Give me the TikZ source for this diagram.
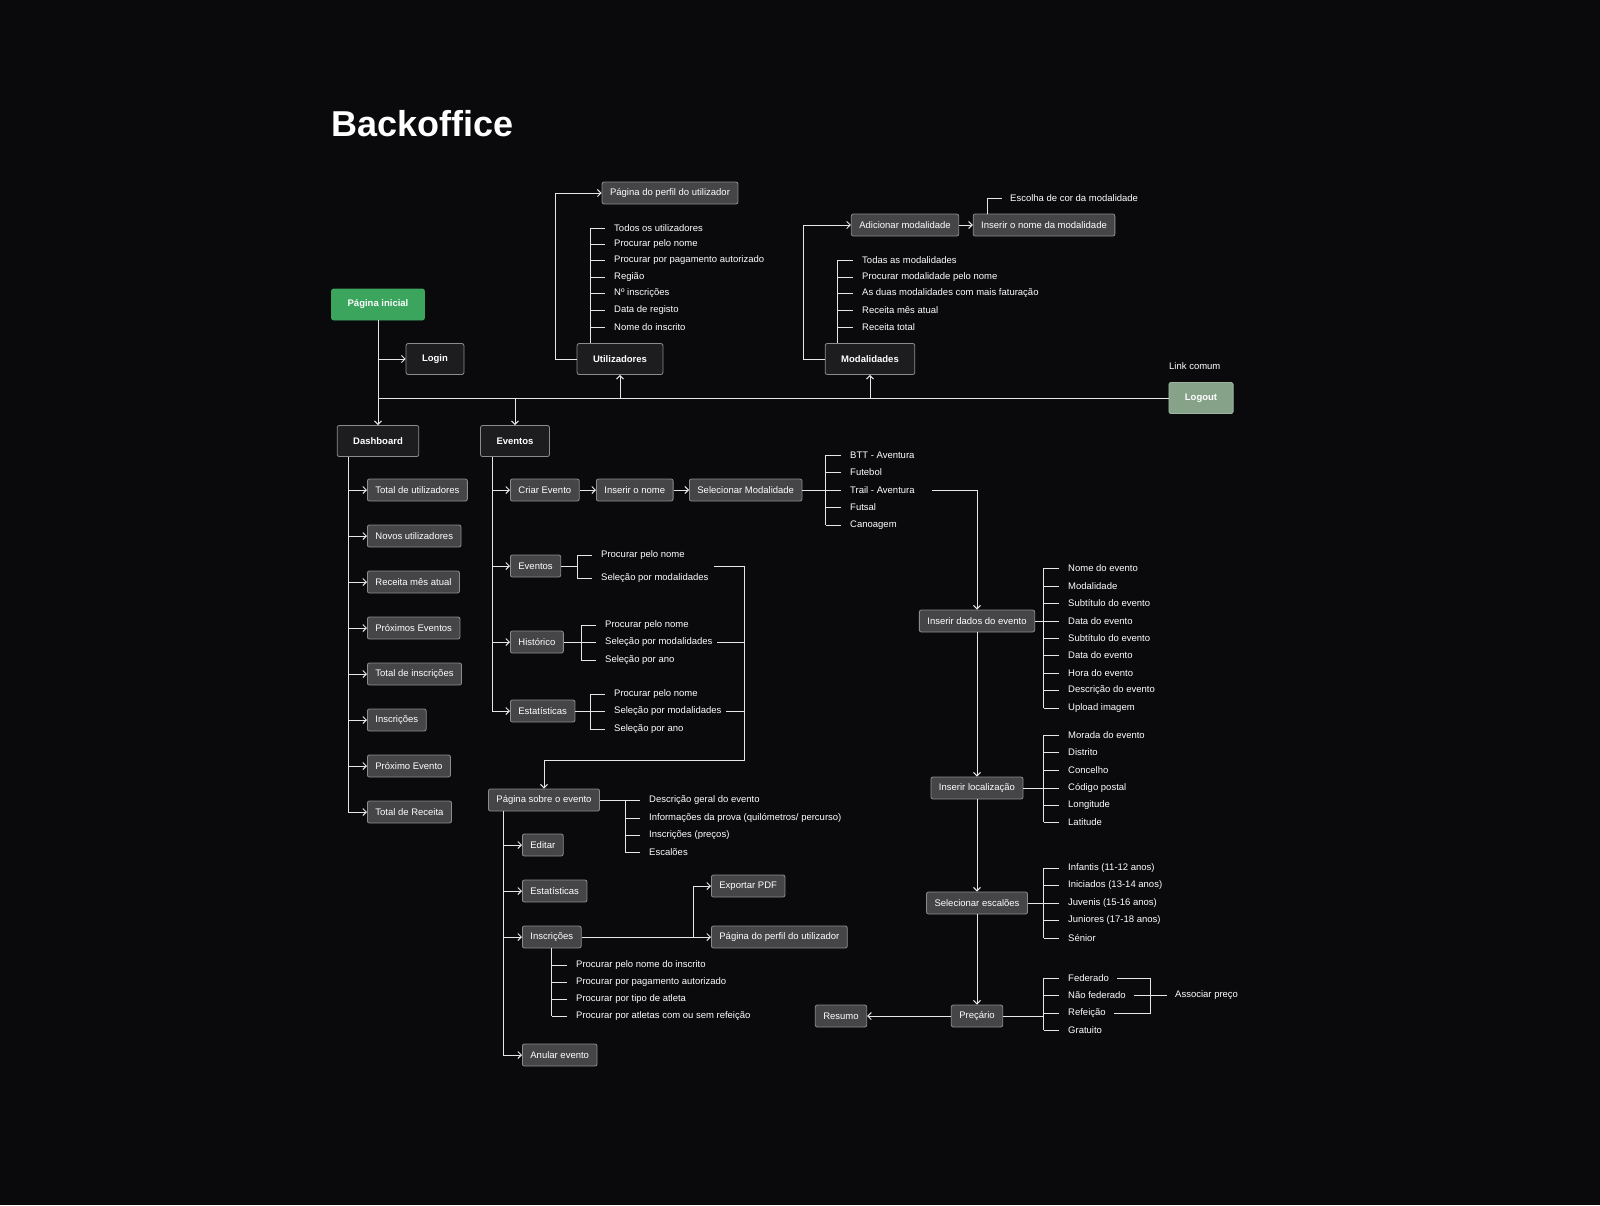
\documentclass[tikz,border=0pt]{standalone}
\usepackage{fontspec}
\setmainfont{Liberation Sans}
\usetikzlibrary{arrows.meta,calc}
\definecolor{bg}{HTML}{0A0A0C}
\definecolor{mainfill}{HTML}{1D1D1F}
\definecolor{subfill}{HTML}{454547}
\definecolor{bord}{HTML}{8C8C8C}
\definecolor{ln}{HTML}{E6E6E6}
\definecolor{grn}{HTML}{3BA55D}
\definecolor{sage}{HTML}{86A38A}
\tikzset{
 base/.style={draw=bord,line width=0.8pt,rounded corners=2pt,text=white,font=\fontsize{9.5}{11}\selectfont},
 mainn/.style={base,fill=mainfill,minimum height=31pt,inner xsep=16pt,font=\fontsize{9.5}{11}\selectfont\bfseries},
 subn/.style={base,fill=subfill,minimum height=22pt,inner xsep=8pt},
 txt/.style={anchor=west,inner sep=0pt,text=white,font=\fontsize{9.5}{11}\selectfont},
 wire/.style={draw=ln,line width=1pt},
 arr/.style={wire,-{Straight Barb[length=3.5pt,width=7pt]}},
}
\newcommand{\mylist}[3]{%
 \foreach \yy/\tt [count=\i] in {#3} {
   \node[txt] (#1\i) at (#2,\yy) {\tt};
   \draw[wire] ([xshift=-9pt]#1\i.west) -- ++(-15pt,0);
 }}
\begin{document}
\begin{tikzpicture}[x=1pt,y=-1pt]
\fill[bg] (0,0) rectangle (1600,1205);
\useasboundingbox (0,0) rectangle (1600,1205);
\node[anchor=west,inner sep=0pt,text=white,font=\fontsize{36}{40}\selectfont\bfseries] (title) at (331,124) {Backoffice};

% top level
\node[mainn,fill=grn,draw=grn] (home) at (378,304.5) {Página inicial};
\node[mainn] (login) at (435,359) {Login};
\node[mainn] (util) at (620,359) {Utilizadores};
\node[mainn] (moda) at (870,359) {Modalidades};
\node[mainn,fill=sage,draw=sage!80!white] (logout) at (1201,398) {Logout};
\node[txt] (link) at (1169,366) {Link comum};
\node[mainn] (dash) at (378,441) {Dashboard};
\node[mainn] (even) at (515,441) {Eventos};

\coordinate (hj) at (378,398);
\draw[arr] (home.south) -- (dash.north);
\draw[arr] (home.south|-login) -- (login.west);
\draw[wire] (hj) -- (logout.west);
\draw[arr] (even.north|-hj) -- (even.north);
\draw[arr] (util.south|-hj) -- (util.south);
\draw[arr] (moda.south|-hj) -- (moda.south);

% Utilizadores
\node[subn] (perfil1) at (670,193) {Página do perfil do utilizador};
\draw[arr] (util.west) -| (555,193) -- (perfil1.west);
\mylist{u}{614}{228/Todos os utilizadores,244/Procurar pelo nome,260/Procurar por pagamento autorizado,277/Região,293/Nº inscrições,310/Data de registo,327/Nome do inscrito}
\draw[wire] (590,228) -- (590,343);

% Modalidades
\node[subn] (addm) at (905,225) {Adicionar modalidade};
\node[subn] (nomem) at (1044,225) {Inserir o nome da modalidade};
\draw[arr] (moda.west) -| (803,225) -- (addm.west);
\draw[arr] (addm.east) -- (nomem.west);
\node[txt] (cor) at (1010,198) {Escolha de cor da modalidade};
\draw[wire] (987,214) -- (987,198) -- (1002,198);
\mylist{m}{862}{260/Todas as modalidades,277/Procurar modalidade pelo nome,293/As duas modalidades com mais faturação,310/Receita mês atual,327/Receita total}
\draw[wire] (837,260) -- (837,343);

% Dashboard
\draw[wire] (348,457) -- (348,812);
\foreach \yy/\tt [count=\i] in {490/Total de utilizadores,536/Novos utilizadores,582/Receita mês atual,628/Próximos Eventos,674/Total de inscrições,720/Inscrições,766/Próximo Evento,812/Total de Receita}{
  \node[subn,anchor=west] (d\i) at (367,\yy) {\tt};
  \draw[arr] (348,\yy) -- (d\i.west);
}

% Eventos
\draw[wire] (492,457) -- (492,711);
\node[subn,anchor=west] (criar) at (510,490) {Criar Evento};
\node[subn,anchor=west] (inome) at (596,490) {Inserir o nome};
\node[subn,anchor=west] (selm) at (689,490) {Selecionar Modalidade};
\node[subn,anchor=west] (evs) at (510,566) {Eventos};
\node[subn,anchor=west] (hist) at (510,642) {Histórico};
\node[subn,anchor=west] (estat) at (510,711) {Estatísticas};
\foreach \n in {criar,evs,hist,estat} \draw[arr] (492,0|-\n) -- (\n.west);
\draw[arr] (criar.east) -- (inome.west);
\draw[arr] (inome.east) -- (selm.west);
\mylist{s}{850}{455/BTT - Aventura,472/Futebol,490/Trail - Aventura,507/Futsal,525/Canoagem}
\draw[wire] (825,455) -- (825,525);
\draw[wire] (selm.east) -- (825,490);

\mylist{e}{601}{555/Procurar pelo nome,578/Seleção por modalidades}
\draw[wire] (577,555) -- (577,578); \draw[wire] (evs.east) -- (577,566);
\mylist{h}{605}{625/Procurar pelo nome,642/Seleção por modalidades,660/Seleção por ano}
\draw[wire] (581,625) -- (581,660); \draw[wire] (hist.east) -- (581,642);
\mylist{t}{614}{694/Procurar pelo nome,711/Seleção por modalidades,729/Seleção por ano}
\draw[wire] (590,694) -- (590,729); \draw[wire] (estat.east) -- (590,711);

\node[subn] (sobre) at (544,800) {Página sobre o evento};
\draw[wire] (714,566) -- (744,566);
\draw[wire] (717,642) -- (744,642);
\draw[wire] (726,711) -- (744,711);
\draw[arr] (744,566) -- (744,760) -- (544,760) -- (sobre.north);

\mylist{p}{649}{800/Descrição geral do evento,818/{Informações da prova (quilómetros/ percurso)},835/Inscrições (preços),852/Escalões}
\draw[wire] (sobre.east) -- (625,800) -- (625,852);

\draw[wire] (503,811) -- (503,1055);
\node[subn,anchor=west] (edit) at (522,845) {Editar};
\node[subn,anchor=west] (est2) at (522,891) {Estatísticas};
\node[subn,anchor=west] (insc) at (522,937) {Inscrições};
\node[subn,anchor=west] (anul) at (522,1055) {Anular evento};
\foreach \n in {edit,est2,insc,anul} \draw[arr] (503,0|-\n) -- (\n.west);
\node[subn,anchor=west] (perfil2) at (711,937) {Página do perfil do utilizador};
\node[subn,anchor=west] (pdf) at (711,886) {Exportar PDF};
\draw[arr] (insc.east) -- (perfil2.west);
\draw[arr] (693,937) -- (693,886) -- (pdf.west);
\mylist{i}{576}{965/Procurar pelo nome do inscrito,982/Procurar por pagamento autorizado,999/Procurar por tipo de atleta,1016/Procurar por atletas com ou sem refeição}
\draw[wire] (551,948) -- (551,1016);

% right column
\node[subn] (dados) at (977,621) {Inserir dados do evento};
\node[subn] (local) at (977,788) {Inserir localização};
\node[subn] (esc) at (977,903) {Selecionar escalões};
\node[subn] (prec) at (977,1016) {Preçário};
\node[subn] (res) at (841,1016) {Resumo};
\draw[arr] (932,490) -- (977,490) -- (dados.north);
\draw[arr] (dados.south) -- (local.north);
\draw[arr] (local.south) -- (esc.north);
\draw[arr] (esc.south) -- (prec.north);
\draw[arr] (prec.west) -- (res.east);

\mylist{a}{1068}{568/Nome do evento,586/Modalidade,603/Subtítulo do evento,621/Data do evento,638/Subtítulo do evento,655/Data do evento,673/Hora do evento,690/Descrição do evento,708/Upload imagem}
\draw[wire] (1043,568) -- (1043,708); \draw[wire] (dados.east) -- (1043,621);
\mylist{b}{1068}{735/Morada do evento,752/Distrito,770/Concelho,788/Código postal,805/Longitude,822/Latitude}
\draw[wire] (1043,735) -- (1043,822); \draw[wire] (local.east) -- (1043,788);
\mylist{c}{1068}{868/Infantis (11-12 anos),885/Iniciados (13-14 anos),903/Juvenis (15-16 anos),920/Juniores (17-18 anos),938/Sénior}
\draw[wire] (1043,868) -- (1043,938); \draw[wire] (esc.east) -- (1043,903);
\mylist{f}{1068}{978/Federado,995/Não federado,1013/Refeição,1030/Gratuito}
\draw[wire] (1043,978) -- (1043,1030); \draw[wire] (prec.east) -- (1043,1016);
\node[txt] (assoc) at (1175,995) {Associar preço};
\draw[wire] ([xshift=8pt]f1.east) -- (1150,978) -- (1150,1013) -- ([xshift=8pt]f3.east);
\draw[wire] ([xshift=8pt]f2.east) -- ([xshift=-8pt]assoc.west);
\end{tikzpicture}
\end{document}
